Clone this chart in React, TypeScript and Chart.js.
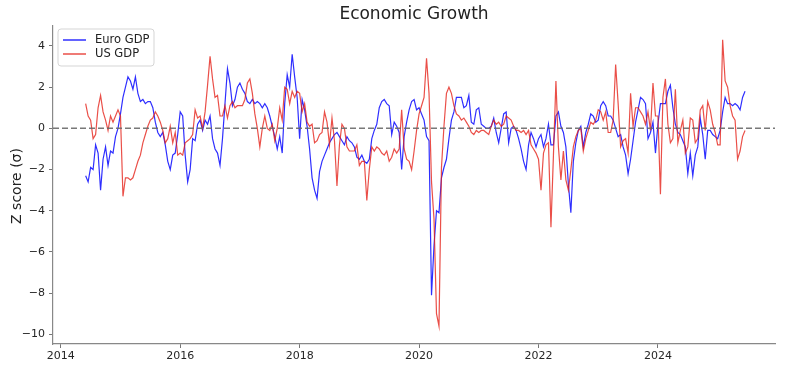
import React, { useEffect, useRef } from "react";
import { Chart, registerables } from "chart.js";

Chart.register(...registerables);

const TITLE = "Economic Growth";
const Y_LABEL = "Z score (σ)";
const EURO_NAME = "Euro GDP";
const US_NAME = "US GDP";

// twice-monthly observations starting June 2014
const START_YEAR = 2014;
const START_MONTH = 6;
const OBS_PER_YEAR = 24;

const euroGdp = [
  -2.3, -2.6, -1.9, -2.0, -0.8, -1.2, -3.0, -1.5, -0.9, -1.8,
  -1.1, -1.2, -0.4, 0.0, 0.7, 1.5, 2.0, 2.5, 2.3, 1.9,
  2.5, 1.7, 1.3, 1.4, 1.2, 1.3, 1.3, 1.0, 0.3, -0.2,
  -0.4, -0.2, -0.8, -1.6, -2.0, -1.3, -1.2, -0.3, 0.8, 0.6,
  -1.3, -2.6, -2.0, -0.5, -0.6, 0.2, 0.4, -0.1, 0.4, 0.2,
  0.6, -0.5, -1.0, -1.2, -1.8, -0.5, 1.2, 2.9, 2.2, 1.1,
  1.4, 2.0, 2.2, 1.9, 1.7, 1.3, 1.2, 1.4, 1.2, 1.3,
  1.2, 1.0, 1.2, 1.0, 0.6, 0.1, -0.4, -1.0, -0.4, -1.2,
  1.2, 2.6, 2.0, 3.6, 2.5, 1.5, -0.5, 1.4, 0.9, 0.1,
  -1.0, -2.4, -3.0, -3.4, -2.1, -1.6, -1.3, -1.0, -0.7, -0.5,
  -0.3, -0.2, -0.4, -0.6, -0.8, -0.4, -0.6, -0.7, -0.9, -1.4,
  -1.5, -1.3, -1.6, -1.7, -1.5, -0.5, -0.1, 0.2, 1.0, 1.3,
  1.4, 1.2, 1.1, -0.3, 0.3, 0.1, -0.2, -2.0, -0.4, 0.3,
  0.9, 1.3, 1.4, 0.9, 1.0, 0.7, 0.4, -0.4, -0.6, -8.1,
  -5.7, -4.0, -4.1, -2.4, -1.9, -1.5, -0.5, 0.4, 0.8, 1.5,
  1.5, 1.5, 1.0, 1.1, 1.6, 0.3, 0.2, 0.9, 1.0, 0.2,
  0.1, 0.0, 0.0, 0.1, 0.5, -0.2, -0.7, 0.0, 0.7, 0.8,
  -0.7, 0.0, 0.1, -0.1, -0.5, -1.0, -1.6, -2.0, -0.8, -0.2,
  -0.5, -0.9, -0.5, -0.3, -0.9, -0.5, 0.2, -0.8, -0.8, 0.6,
  0.8, 0.1, -0.2, -0.9, -2.7, -4.1, -1.6, -0.7, -0.1, 0.1,
  -0.9, -0.2, 0.2, 0.7, 0.6, 0.3, 0.4, 1.1, 1.3, 1.1,
  0.6, 0.6, 0.4, 0.0, -0.4, -0.3, -0.9, -1.3, -2.2, -1.5,
  -0.6, 0.3, 0.9, 1.5, 1.4, 1.2, -0.5, -0.2, 0.3, -1.2,
  0.2, 1.2, 1.2, 1.2, 1.8, 2.1, 1.0, 0.2, -0.2, -0.3,
  -0.6, -0.9, -2.2, -1.2, -2.3, -1.3, -0.9, 0.5, -0.3, -1.5,
  -0.1, -0.1, -0.3, -0.4, -0.5, -0.1, 0.8, 1.5, 1.2, 1.2,
  1.1, 1.2, 1.1, 0.9, 1.5, 1.8,
];

const usGdp = [
  1.2, 0.6, 0.4, -0.5, -0.3, 1.0, 1.6, 0.8, 0.4, -0.1,
  0.6, 0.3, 0.6, 0.9, 0.6, -3.3, -2.4, -2.4, -2.5, -2.4,
  -2.0, -1.6, -1.3, -0.7, -0.3, 0.1, 0.4, 0.5, 0.8, 0.6,
  0.3, -0.1, -0.7, -0.5, 0.1, -0.7, -0.2, -1.3, -1.2, -1.3,
  -0.7, -0.6, -0.5, -0.3, 0.9, 0.5, 0.6, 0.0, 0.8, 2.1,
  3.5, 2.4, 1.5, 1.6, 0.6, 0.6, 1.1, 0.5, 1.1, 1.3,
  1.0, 1.1, 1.1, 1.1, 1.4, 2.2, 2.4, 1.7, 0.7, 0.0,
  -0.9, 0.0, 0.6, 0.0, -0.1, 0.2, -0.6, 0.0, 1.0, 0.4,
  2.0, 1.9, 1.2, 1.8, 1.5, 1.8, 1.7, 0.8, 1.2, 0.3,
  0.1, 0.2, -0.7, -0.6, -0.3, -0.2, 0.8, 0.3, -0.8, 0.5,
  -0.6, -2.8, -0.8, 0.2, 0.0, -0.9, -1.1, -1.1, -1.1, -0.8,
  -1.8, -1.6, -1.6, -3.5, -2.0, -0.9, -1.1, -0.9, -1.0, -1.2,
  -1.3, -1.1, -1.6, -1.4, -1.0, -1.2, -1.0, 0.9, -1.0, -1.5,
  -1.6, -2.0, -1.1, -0.1, 0.7, 1.1, 1.5, 3.4, 1.7, -2.6,
  -4.4, -9.0, -9.6, -1.9, 0.1, 1.7, 2.0, 1.7, 1.1, 0.7,
  0.6, 0.4, 0.5, 0.3, 0.1, -0.2, -0.3, -0.1, -0.2, -0.1,
  -0.1, -0.2, -0.3, 0.1, 0.4, 0.2, 0.3, 0.1, 0.2, 0.6,
  0.5, 0.4, 0.1, -0.1, -0.1, -0.2, -0.1, -0.3, -0.1, -0.8,
  -1.0, -1.2, -1.5, -3.0, -1.2, -0.8, -0.7, -4.8, -1.3, 2.3,
  -0.9, -2.5, -1.1, -2.5, -3.0, -2.0, -0.9, -0.4, -0.1, 0.0,
  -1.1, -0.5, -0.1, 0.3, 0.2, 0.4, 0.9, 0.8, 0.4, 0.8,
  -0.2, -0.2, 0.4, 3.1, 1.2, -0.9, -0.6, -0.5, -1.2, 1.7,
  0.1, 1.0, 1.0, 0.8, 0.6, 0.2, 0.8, -0.1, 2.2, 0.6,
  0.6, -3.2, 1.5, 2.4, 0.2, -0.7, -0.5, 1.9, -0.7, -0.1,
  0.4, -1.2, -0.9, 0.5, 0.4, -0.7, -0.5, 0.9, 1.1, -0.1,
  1.3, 0.9, 0.2, -0.2, -0.8, -0.8, 4.3, 2.3, 2.0, 1.1,
  0.6, 0.4, -1.5, -1.1, -0.4, -0.1,
];

const xTicks = [2014, 2016, 2018, 2020, 2022, 2024];
const yTicks = [-10, -8, -6, -4, -2, 0, 2, 4];
const xRange = [2013.87, 2025.96];
const yRange = [-10.47, 4.97];

const EURO_COLOR = "rgba(0, 0, 255, 0.82)";
const US_COLOR = "rgba(228, 30, 20, 0.78)";
const FONT = "'DejaVu Sans', Verdana, sans-serif";

const obsYear = (i: number) => START_YEAR + (START_MONTH - 1) / 12 + i / OBS_PER_YEAR;

export default function App() {
  const canvasRef = useRef<HTMLCanvasElement | null>(null);

  useEffect(() => {
    const canvas = canvasRef.current;
    if (!canvas) return;

    const overlay = {
      id: "overlay",
      afterDatasetsDraw(chart: any) {
        const { ctx, chartArea, scales } = chart;
        const y0 = scales.y.getPixelForValue(0);
        ctx.save();
        ctx.strokeStyle = "rgba(105,105,105,0.9)";
        ctx.lineWidth = 1.5;
        ctx.setLineDash([6, 3]);
        ctx.beginPath();
        ctx.moveTo(chartArea.left, y0);
        ctx.lineTo(chartArea.right, y0);
        ctx.stroke();
        ctx.restore();
      },
      afterDraw(chart: any) {
        const { ctx, chartArea } = chart;
        ctx.save();
        ctx.fillStyle = "#222";
        ctx.font = `17px ${FONT}`;
        ctx.textAlign = "center";
        ctx.textBaseline = "middle";
        ctx.fillText(TITLE, (chartArea.left + chartArea.right) / 2, 15);
        ctx.save();
        ctx.translate(17, 186);
        ctx.rotate(-Math.PI / 2);
        ctx.font = `14px ${FONT}`;
        ctx.fillText(Y_LABEL, 0, 0);
        ctx.restore();
        const lx = chartArea.left + 5;
        const ly = chartArea.top + 3;
        const w = 96;
        const h = 37;
        const r = 3;
        ctx.beginPath();
        ctx.moveTo(lx + r, ly);
        ctx.lineTo(lx + w - r, ly);
        ctx.quadraticCurveTo(lx + w, ly, lx + w, ly + r);
        ctx.lineTo(lx + w, ly + h - r);
        ctx.quadraticCurveTo(lx + w, ly + h, lx + w - r, ly + h);
        ctx.lineTo(lx + r, ly + h);
        ctx.quadraticCurveTo(lx, ly + h, lx, ly + h - r);
        ctx.lineTo(lx, ly + r);
        ctx.quadraticCurveTo(lx, ly, lx + r, ly);
        ctx.closePath();
        ctx.fillStyle = "rgba(255,255,255,0.85)";
        ctx.fill();
        ctx.strokeStyle = "#d5d5d5";
        ctx.lineWidth = 1;
        ctx.stroke();
        const entries = [
          { name: EURO_NAME, color: EURO_COLOR },
          { name: US_NAME, color: US_COLOR },
        ];
        ctx.font = `11.5px ${FONT}`;
        ctx.textAlign = "left";
        ctx.textBaseline = "middle";
        entries.forEach((e, k) => {
          const yy = ly + 11 + k * 14;
          ctx.strokeStyle = e.color;
          ctx.lineWidth = 1.5;
          ctx.beginPath();
          ctx.moveTo(lx + 5, yy);
          ctx.lineTo(lx + 28, yy);
          ctx.stroke();
          ctx.fillStyle = "#222";
          ctx.fillText(e.name, lx + 37, yy);
        });
        ctx.restore();
      },
    };

    const fmt = (v: number) => (v < 0 ? "\u2212" + Math.abs(v) : String(v));

    const chart = new Chart(canvas, {
      type: "line",
      data: {
        datasets: [
          {
            label: EURO_NAME,
            data: euroGdp.map((v, i) => ({ x: obsYear(i), y: v })),
            borderColor: EURO_COLOR,
            borderWidth: 1.2,
            pointRadius: 0,
            tension: 0,
            fill: false,
            order: 1,
          },
          {
            label: US_NAME,
            data: usGdp.map((v, i) => ({ x: obsYear(i), y: v })),
            borderColor: US_COLOR,
            borderWidth: 1.2,
            pointRadius: 0,
            tension: 0,
            fill: false,
            order: 0,
          },
        ],
      },
      options: {
        responsive: false,
        animation: false,
        devicePixelRatio: 1,
        layout: { padding: { left: 0, right: 16, top: 26, bottom: 0 } },
        plugins: {
          legend: { display: false },
          title: { display: false },
          tooltip: { enabled: false },
        },
        scales: {
          x: {
            type: "linear",
            min: xRange[0],
            max: xRange[1],
            afterFit: (s: any) => {
              s.height = 34;
            },
            afterBuildTicks: (s: any) => {
              s.ticks = xTicks.map((v) => ({ value: v }));
            },
            ticks: {
              color: "#262626",
              font: { family: FONT, size: 11 },
              padding: 2,
              maxRotation: 0,
              autoSkip: false,
              callback: (v: any) => String(v),
            },
            grid: {
              drawOnChartArea: false,
              drawTicks: true,
              tickLength: 4,
              color: "#777",
            },
            border: { display: true, color: "#888", width: 1.2 },
          },
          y: {
            type: "linear",
            min: yRange[0],
            max: yRange[1],
            afterFit: (s: any) => {
              s.width = 53;
            },
            afterBuildTicks: (s: any) => {
              s.ticks = yTicks.map((v) => ({ value: v }));
            },
            ticks: {
              color: "#262626",
              font: { family: FONT, size: 11 },
              padding: 4,
              autoSkip: false,
              callback: (v: any) => fmt(Number(v)),
            },
            grid: {
              drawOnChartArea: false,
              drawTicks: true,
              tickLength: 4,
              color: "#777",
            },
            border: { display: true, color: "#888", width: 1.2 },
          },
        },
      },
      plugins: [overlay],
    });

    return () => chart.destroy();
  }, []);

  return (
    <div style={{ position: "absolute", left: 0, top: 0, width: 791, height: 378, background: "#fff" }}>
      <canvas ref={canvasRef} width={791} height={378} style={{ display: "block" }} />
    </div>
  );
}
